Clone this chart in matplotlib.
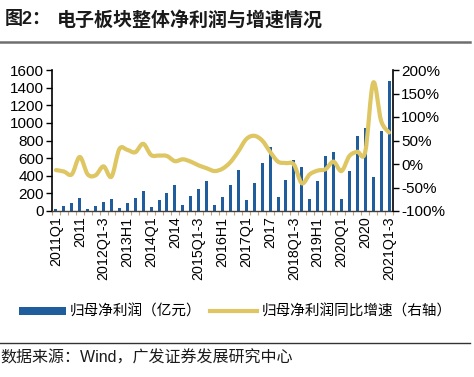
import matplotlib
matplotlib.use("Agg")
import matplotlib.pyplot as plt
from matplotlib.patches import Patch, PathPatch
from matplotlib.path import Path
from matplotlib.lines import Line2D
import numpy as np

plt.rcParams['font.family'] = ['Liberation Sans', 'Noto Sans CJK SC', 'DejaVu Sans']

periods = []
for yr in range(2011, 2022):
    for suf in ["Q1", "H1", "Q1-3", ""]:
        if yr == 2021 and suf == "":
            continue
        periods.append(f"{yr}{suf}")

profit = [18, 57, 87, 148, 19, 57, 102, 140, 30, 87, 148, 229, 50, 122, 205, 294,
          70, 168, 250, 340, 72, 162, 296, 460, 125, 314, 540, 722, 157, 348, 582, 502,
          136, 343, 622, 668, 136, 450, 849, 944, 386, 910, 1480]
growth = [-13, -16, -22, 15, -22, -24, -5, -27, 32, 30, 25, 43, 19, 18, 17, 6,
          10, 5, -3, -9, -15, -10, 4, 27, 53, 60, 50, 26, 5, 2, -1, -41,
          -22, -14, -11, 5, -15, 17, 26, 26, 173, 92, 67]

label_every = 3
bar_color = "#1F5D9C"
line_color = "#DEC663"

W, H = 474, 377
fig = plt.figure(figsize=(W / 100, H / 100), dpi=100)
ax = fig.add_axes([52 / W, 1 - 211 / H, (393 - 52) / W, (211 - 70) / H])
ax2 = ax.twinx()

x = np.arange(len(periods))
ax.bar(x, profit, width=0.38, color=bar_color, zorder=2)


def smooth_path(xs, ys):
    """Smoothed line style (like a spreadsheet 'smooth line') through the data points."""
    pts = np.column_stack([xs, ys]).astype(float)
    n = len(pts)
    verts = [pts[0]]
    codes = [Path.MOVETO]
    for i in range(n - 1):
        p0 = pts[i - 1] if i > 0 else pts[i]
        p1 = pts[i]
        p2 = pts[i + 1]
        p3 = pts[i + 2] if i + 2 < n else pts[i + 1]
        c1 = p1 + (p2 - p0) / 6.0
        c2 = p2 - (p3 - p1) / 6.0
        verts += [c1, c2, p2]
        codes += [Path.CURVE4] * 3
    return Path(verts, codes)


ax2.add_patch(PathPatch(smooth_path(x, growth), facecolor='none', edgecolor=line_color,
                        lw=3.0, joinstyle='round', capstyle='round', zorder=3))

ax.set_xlim(-0.5, len(periods) - 0.5)
ax.set_ylim(0, 1600)
ax.set_yticks(np.arange(0, 1601, 200))
ax2.set_ylim(-100, 200)
ax2.set_yticks(np.arange(-100, 201, 50))
ax2.set_yticklabels([f"{v}%" for v in range(-100, 201, 50)])

ax.set_xticks(x[::label_every])
ax.set_xticklabels([periods[i] for i in x[::label_every]], rotation=90, fontsize=10.3)
ax.set_xticks(np.arange(-0.5, len(periods), 1), minor=True)
ax.tick_params(axis='x', which='major', length=0, pad=4)
ax.tick_params(axis='x', which='minor', length=3, color="#C8A27A", width=0.8)
ax.tick_params(axis='y', labelsize=11, length=4, width=1, direction='out', pad=2)
ax2.tick_params(axis='y', labelsize=11, length=4, width=1, direction='out', pad=2)
ax2.tick_params(axis='x', length=0)

for a in (ax, ax2):
    a.spines['top'].set_visible(False)
ax.spines['right'].set_visible(False)
ax2.spines['left'].set_visible(False)
ax2.spines['bottom'].set_visible(False)
ax.spines['left'].set_linewidth(1.2)
ax2.spines['right'].set_linewidth(1.2)
ax.spines['bottom'].set_linewidth(1.0)
ax.spines['bottom'].set_color("#404040")

# Title
fig.text(5 / W, 1 - 20 / H, "图2：", fontsize=13, fontweight='bold', va='center', ha='left',
         color="#1a1a1a")
fig.text(57 / W, 1 - 20 / H, "电子板块整体净利润与增速情况", fontsize=13.7, fontweight='bold',
         va='center', ha='left', color="#1a1a1a")
fig.add_artist(Line2D([0, 470 / W], [1 - 42 / H, 1 - 42 / H], color="#6e6e6e", lw=1.8))

# Legend
handles = [Patch(facecolor=bar_color, edgecolor='none'),
           Line2D([0], [0], color=line_color, lw=3)]
leg = fig.legend(handles, ["归母净利润（亿元）", "归母净利润同比增速（右轴）"],
                 loc='center left', bbox_to_anchor=(19 / W, 1 - 312 / H), ncol=2, frameon=False,
                 fontsize=10.5, handlelength=3.2, handleheight=0.5, columnspacing=0.6,
                 handletextpad=0.3, borderpad=0, borderaxespad=0)

fig.add_artist(Line2D([0, 470 / W], [1 - 343 / H, 1 - 343 / H], color="#333333", lw=1.0))
fig.text(0 / W, 1 - 358 / H, "数据来源：Wind，广发证券发展研究中心", fontsize=11.5,
         va='center', ha='left', color="#1a1a1a")

fig.savefig("out.png", dpi=100)
